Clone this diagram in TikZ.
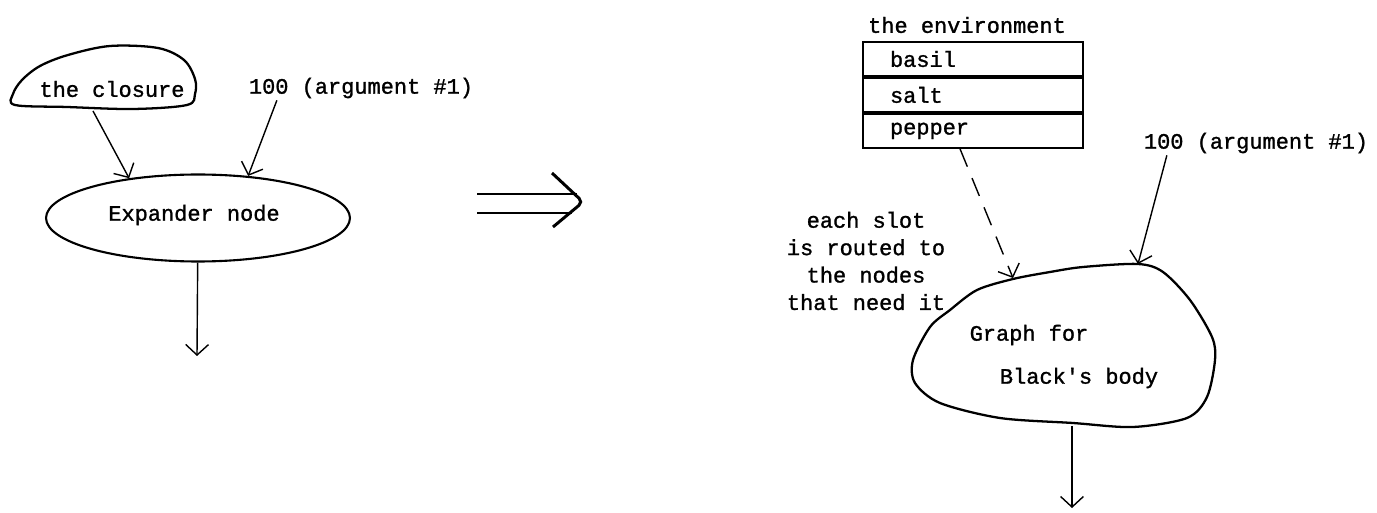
\documentclass[tikz,border=0pt]{standalone}
\usepackage{fontspec}
\setmonofont{Liberation Mono}[FakeBold=1.2]
\usepackage{tikz}
\usetikzlibrary{positioning}
\usetikzlibrary{arrows.meta}
\usetikzlibrary{shapes.geometric}

\newcommand{\printfont}{\ttfamily\fontsize{12.5pt}{15.6pt}\selectfont}

\begin{document}
\begin{tikzpicture}[
    x=0.02cm, y=-0.02cm, % one unit per pixel, y running down
    txt/.style={
        font=\printfont,
        inner sep=1pt
    },
    slot/.style={
        draw,
        line width=1.1pt,
        font=\printfont,
        minimum width=4.4cm,
        minimum height=0.68cm,
        inner xsep=0.54cm,
        text width=3.32cm,
        align=left
    },
    blob/.style={
        line width=1.3pt,
        line join=round
    },
    arrow/.style={
        -{Straight Barb[length=6pt,width=13pt]},
        line width=0.8pt
    },
    feed/.style={
        arrow,
        dash pattern=on 11pt off 7pt
    }
]
    \useasboundingbox (0,0) rectangle (1377,513);

    % --- Before: the expander node fed by a closure and an argument ---
    \draw[blob] plot[smooth cycle, tension=0.55] coordinates {
        (13,94) (22,80) (40,66) (68,55) (110,46) (158,48) (184,60)
        (195,79) (195,94) (187,105) (133,109) (67,107) (15,105)};
    \node[txt] (closure) at (112,89) {the closure};
    \coordinate (clo-out) at (93,111);

    \node[txt] (arg-l) at (361,88) {100 (argument \#1)};

    \node[draw, ellipse, line width=1.2pt, minimum width=6.08cm,
          minimum height=1.74cm] (expander) at (198,218) {};
    \node[txt] (exp-text) at (194,215) {Expander node};
    \coordinate (exp-end) at (197,356);

    \draw[arrow] (clo-out) -- (expander.150);
    \draw[arrow] ([xshift=0.6cm]arg-l.south west) -- (expander.40);
    \draw[arrow] (expander) -- (exp-end);

    % --- Rewrite sign ---
    \draw[line width=1.7pt] (477,194) -- (577,194);
    \draw[line width=1.7pt] (477,213) -- (572,213);
    \draw[line width=1.7pt, rounded corners=3pt] (552,173) -- (583,202) -- (553,227);

    % --- After: environment slots routed into the body graph ---
    \node[slot] (basil) at (973,59) {basil};
    \node[slot, below=0pt of basil] (salt) {salt};
    \node[slot, below=0pt of salt] (pepper) {pepper};
    \node[txt] (env) at (967,25) {the environment};

    \node[txt] (arg-r) at (1256,143) {100 (argument \#1)};

    \node[txt, align=center] (routing) at (866,261)
        {each slot\\is routed to\\the nodes\\that need it};

    \draw[blob] plot[smooth cycle, tension=0.5] coordinates {
        (1013,279) (1050,272) (1083,267) (1138,264) (1163,272) (1190,300)
        (1212,337) (1215,360) (1207,397) (1187,418) (1133,427) (1073,423)
        (1000,418) (940,403) (915,383) (913,360) (930,327) (950,310) (977,290)};
    \node[txt] (graph) at (1029,335) {Graph for};
    \node[txt] (body) at (1079,378) {Black's body};
    \coordinate (g-env) at (1013,278);
    \coordinate (g-arg) at (1138,264);
    \coordinate (g-out) at (1072,426);
    \coordinate (g-end) at (1072,508);

    \draw[feed] ([xshift=-0.26cm]pepper.south) -- (g-env);
    \draw[arrow] ([xshift=0.5cm]arg-r.south west) -- (g-arg);
    \draw[arrow] (g-out) -- (g-end);
\end{tikzpicture}
\end{document}
